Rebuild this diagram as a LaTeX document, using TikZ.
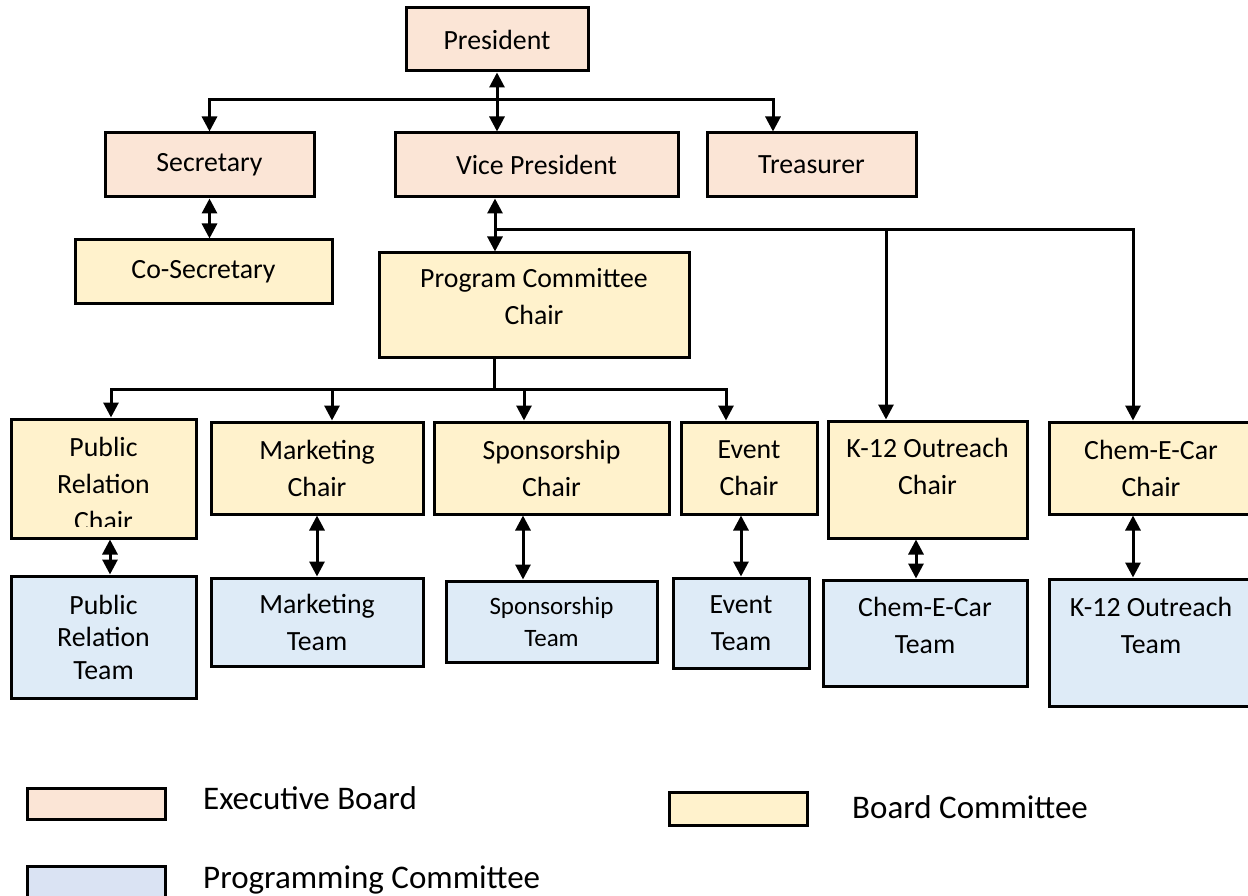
\documentclass[tikz,border=0pt]{standalone}
\usepackage{fontspec}
\setmainfont{Carlito}
\usetikzlibrary{arrows.meta}
\definecolor{execfill}{RGB}{251,229,214}
\definecolor{boardfill}{RGB}{255,242,204}
\definecolor{progfill}{RGB}{222,235,247}
\definecolor{keyblue}{RGB}{218,227,243}
\begin{document}
\begin{tikzpicture}[x=1pt,y=-1pt,
    box/.style={draw,line width=3pt,inner sep=0pt,align=center,font=\fontsize{27.8}{37}\selectfont},
    exec/.style={box,fill=execfill},
    board/.style={box,fill=boardfill},
    prog/.style={box,fill=progfill},
    txt/.style={inner sep=0pt,align=center,font=\fontsize{27.8}{37}\selectfont},
    keytxt/.style={anchor=base west,inner sep=0pt,font=\fontsize{33}{40}\selectfont},
    link/.style={line width=3pt},
    arr/.style={link,-{Triangle[length=15pt,width=15pt]}},
    darr/.style={link,{Triangle[length=15pt,width=15pt]}-{Triangle[length=15pt,width=15pt]}}]
  \clip (0,0) rectangle (1248,896);
  \node[exec,minimum width=182pt,minimum height=63pt] (pres) at (497,39.5) {President};
  \node[exec,minimum width=209pt,minimum height=64pt] (sec) at (209.5,165) {Secretary};
  \node[exec,minimum width=283pt,minimum height=64pt] (vp) at (536.5,165) {Vice President};
  \node[exec,minimum width=209pt,minimum height=64pt] (tre) at (811.5,165) {Treasurer};
  \node[board,minimum width=257pt,minimum height=63pt] (cosec) at (203.5,271.5) {Co-Secretary};
  \node[board,minimum width=310pt,minimum height=104pt] (pcc) at (534,305) {};
  \node[txt] (pcctext) at (534,297) {Program Committee\\Chair};
  \node[board,minimum width=185pt,minimum height=119pt] (prc) at (103.5,478.5) {};
  \begin{scope}
    \clip (prc.north west) rectangle (196,526);
    \node[txt] (prctext) at (103.5,483.5) {Public\\Relation\\Chair};
  \end{scope}
  \node[board,minimum width=212pt,minimum height=92pt] (mkc) at (317,468) {Marketing\\Chair};
  \node[board,minimum width=235pt,minimum height=92pt] (spc) at (551.5,468) {Sponsorship\\Chair};
  \node[board,minimum width=136pt,minimum height=92pt] (evc) at (749,468) {Event\\Chair};
  \node[board,minimum width=199pt,minimum height=117pt] (k12c) at (927.5,479.5) {};
  \node[txt] (k12ctext) at (927.5,466) {K-12 Outreach\\Chair};
  \node[board,minimum width=204pt,minimum height=92pt] (cecc) at (1151,468) {Chem-E-Car\\Chair};
  \node[prog,minimum width=185pt,minimum height=122pt,font=\fontsize{27.8}{32.5}\selectfont] (prt) at (103.5,637) {Public\\Relation\\Team};
  \node[prog,minimum width=212pt,minimum height=88pt] (mkt) at (317,622) {Marketing\\Team};
  \node[prog,minimum width=211pt,minimum height=81pt,font=\fontsize{25}{32}\selectfont] (spt) at (551.5,621.5) {Sponsorship\\Team};
  \node[prog,minimum width=136pt,minimum height=90pt] (evt) at (741,623) {Event\\Team};
  \node[prog,minimum width=204pt,minimum height=106pt] (cect) at (925,633) {};
  \node[txt] (cecttext) at (925,625.5) {Chem-E-Car\\Team};
  \node[prog,minimum width=204pt,minimum height=127pt] (k12t) at (1151,642.5) {};
  \node[txt] (k12ttext) at (1151,625.5) {K-12 Outreach\\Team};

  \coordinate (topbar) at (497,100);
  \coordinate (vpbar) at (495,230);
  \coordinate (pccbar) at (494,389);
  \draw[darr] (pres.south) -- (pres.south |- vp.north);
  \draw[arr] (topbar) -| (sec.north);
  \draw[arr] (topbar) -| ([xshift=-38.5pt]tre.north);
  \draw[darr] (sec.south) -- (sec.south |- cosec.north);
  \draw[darr] (vpbar |- vp.south) -- (vpbar |- pcc.north);
  \draw[arr] (vpbar) -| ([xshift=-41.5pt]k12c.north);
  \draw[arr] (vpbar) -| ([xshift=-18pt]cecc.north);
  \draw[link] (pccbar |- pcc.south) -- (pccbar);
  \foreach \n/\dx in {prc/7.5,mkc/15,spc/-27.5,evc/-23}
    \draw[arr] (pccbar) -| ([xshift=\dx pt]\n.north);
  \foreach \c/\t/\dx in {prc/prt/6.5,mkc/mkt/0,spc/spt/-28.5,evc/evt/-8,k12c/cect/-11.5,cecc/k12t/-18}
    \draw[darr] ([xshift=\dx pt]\c.south) -- ([xshift=\dx pt]\c.south |- \t.north);

  \node[exec,minimum width=138pt,minimum height=31pt] (keyexec) at (96,803.5) {};
  \node[keytxt] (keyexectext) at (203,809) {Executive Board};
  \node[board,minimum width=138pt,minimum height=33pt] (keyboard) at (738,808.5) {};
  \node[keytxt] (keyboardtext) at (852,818) {Board Committee};
  \node[box,fill=keyblue,minimum width=138pt,minimum height=34pt] (keyprog) at (96,883) {};
  \node[keytxt] (keyprogtext) at (203,888) {Programming Committee};
\end{tikzpicture}
\end{document}
